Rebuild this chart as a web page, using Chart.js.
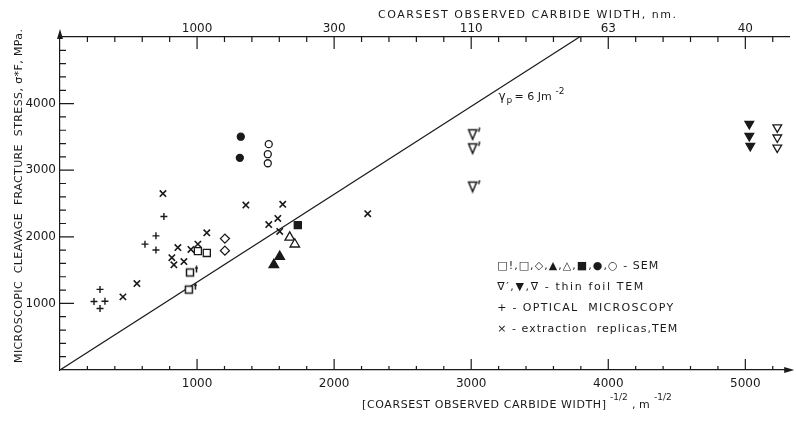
<!DOCTYPE html>
<html>
<head>
<meta charset="utf-8">
<script src="https://cdn.jsdelivr.net/npm/chart.js@4/dist/chart.umd.min.js"></script>
<style>
html, body { margin: 0; padding: 0; background: #fff; }
#wrap { width: 796px; height: 421px; }
</style>
</head>
<body>
<div id="wrap"><canvas id="chart_canvas" width="796" height="421"></canvas></div>
<script>
// Axis ranges and tick labels
var xMax = 5320, yMax = 5000;
var xTickValues = [1000, 2000, 3000, 4000, 5000];
var yTickValues = [1000, 2000, 3000, 4000];
var topTickValues = [1000, 2000, 3000, 4000, 5000];
var topTickLabels = ['1000', '300', '110', '63', '40'];

// SEM
var sqBangX = [948, 940];           var sqBangY = [1464, 1207];
var squareX = [1006, 1071];         var squareY = [1784, 1757];
var diamondX = [1203, 1203];        var diamondY = [1973, 1792];
var triFilledX = [1560, 1603];      var triFilledY = [1580, 1702];
var triOpenX = [1676, 1713];        var triOpenY = [1992, 1888];
var sqFilledX = [1735];             var sqFilledY = [2175];
var circFilledX = [1319, 1312];     var circFilledY = [3503, 3186];
var circOpenX = [1523, 1516, 1516]; var circOpenY = [3391, 3240, 3104];
// thin foil TEM
var triPrimeX = [3010, 3010, 3010]; var triPrimeY = [3539, 3328, 2754];
var downFilledX = [5029, 5029, 5036]; var downFilledY = [3695, 3514, 3363];
var downOpenX = [5233, 5233, 5233]; var downOpenY = [3642, 3491, 3340];
// optical microscopy
var plusX = [248, 292, 328, 292, 620, 700, 700, 758];
var plusY = [1029, 1210, 1032, 923, 1890, 2014, 1802, 2304];
// extraction replicas, TEM
var crossX = [751, 561, 459, 860, 816, 831, 904, 955, 1006, 1071, 1356, 1523, 1589, 1625, 1603, 2245];
var crossY = [2650, 1298, 1098, 1838, 1686, 1580, 1628, 1811, 1890, 2059, 2477, 2183, 2275, 2488, 2080, 2347];
// gamma_p = 6 J m^-2 line
var lineX = [0, 3790];
var lineY = [0, 5000];

var INK = '#1a1a1a';
var FONT = '"DejaVu Sans", sans-serif';

function pts(xs, ys) {
    return xs.map(function (v, i) { return {x: v, y: ys[i]}; });
}

// small canvases for the marks that have a prime / bang next to them
function makeMarker(w, h, draw) {
    var c = document.createElement('canvas');
    c.width = w; c.height = h;
    var g = c.getContext('2d');
    g.strokeStyle = INK; g.fillStyle = INK; g.lineWidth = 1.5;
    draw(g);
    return c;
}
var sqBangMark = makeMarker(22, 14, function (g) {
    g.fillStyle = '#fff';
    g.fillRect(7.5, 3.5, 7, 7);
    g.strokeRect(7.5, 3.5, 7, 7);
    g.beginPath(); g.moveTo(17.5, 0.5); g.lineTo(17.5, 7); g.stroke();
    g.beginPath(); g.moveTo(16, 2.5); g.lineTo(19, 2.5); g.stroke();
});
var triPrimeMark = makeMarker(22, 14, function (g) {
    g.fillStyle = '#fff';
    g.beginPath(); g.moveTo(7, 2.5); g.lineTo(15, 2.5); g.lineTo(11, 12); g.closePath();
    g.fill(); g.stroke();
    g.beginPath(); g.moveTo(18, 0.5); g.lineTo(17, 4.5); g.stroke();
});

function markSet(xs, ys, style, filled, radius, extra) {
    var ds = {
        data: pts(xs, ys),
        pointStyle: style,
        pointRadius: radius,
        pointBorderColor: INK,
        pointBackgroundColor: filled ? INK : '#fff',
        pointBorderWidth: 1.3,
        order: 0
    };
    for (var k in extra) ds[k] = extra[k];
    return ds;
}

function spacedText(ctx, text, x, y, width) {
    ctx.letterSpacing = '0px';
    var w = ctx.measureText(text).width;
    var ls = (width - w) / Math.max(text.length - 1, 1);
    ctx.letterSpacing = ls + 'px';
    ctx.fillText(text, x, y);
    ctx.letterSpacing = '0px';
}

// fixed tick positions, labels come from the arrays above
function fixedTicks(values) {
    return function (scale) {
        scale.ticks = values.map(function (v) { return {value: v}; });
    };
}

var sketchAxes = {
    id: 'sketchAxes',
    afterDraw: function (chart) {
        var ctx = chart.ctx, a = chart.chartArea;
        var xs = chart.scales.x, ys = chart.scales.y;
        ctx.save();
        ctx.strokeStyle = INK; ctx.fillStyle = INK; ctx.lineWidth = 1.2;

        // inward tick marks
        ctx.beginPath();
        for (var v = 200; v < xMax; v += 200) {
            var p = xs.getPixelForValue(v), major = v % 1000 === 0;
            ctx.moveTo(p, a.bottom); ctx.lineTo(p, a.bottom - (major ? 11 : 4));
            ctx.moveTo(p, a.top); ctx.lineTo(p, a.top + (major ? 12 : 5));
        }
        for (var w = 200; w < yMax; w += 200) {
            var q = ys.getPixelForValue(w);
            ctx.moveTo(a.left, q); ctx.lineTo(a.left + (w % 1000 === 0 ? 14 : 6), q);
        }
        ctx.stroke();

        // arrow heads
        ctx.beginPath();
        ctx.moveTo(a.left, a.top - 8); ctx.lineTo(a.left - 3, a.top + 2); ctx.lineTo(a.left + 3, a.top + 2);
        ctx.closePath(); ctx.fill();
        ctx.beginPath();
        ctx.moveTo(a.right + 5, a.bottom); ctx.lineTo(a.right - 5, a.bottom - 3); ctx.lineTo(a.right - 5, a.bottom + 3);
        ctx.closePath(); ctx.fill();

        // axis titles
        ctx.textBaseline = 'alphabetic'; ctx.textAlign = 'left';
        ctx.font = '11px ' + FONT;
        spacedText(ctx, 'COARSEST OBSERVED CARBIDE WIDTH, nm.', 378, 18, 298);
        spacedText(ctx, '[COARSEST OBSERVED CARBIDE WIDTH]', 362, 408, 244);
        ctx.font = '9px ' + FONT;
        ctx.fillText('-1/2', 610, 400);
        ctx.font = '11px ' + FONT;
        ctx.fillText(', m', 632, 408);
        ctx.font = '9px ' + FONT;
        ctx.fillText('-1/2', 654, 400);

        ctx.save();
        ctx.translate(19, 196);
        ctx.rotate(-Math.PI / 2);
        ctx.font = '11px ' + FONT;
        ctx.textBaseline = 'middle';
        spacedText(ctx, 'MICROSCOPIC  CLEAVAGE  FRACTURE  STRESS, \u03c3*F, MPa.', -167, 0, 334);
        ctx.restore();

        // line annotation
        var gx = xs.getPixelForValue(3200), gy = ys.getPixelForValue(4060);
        ctx.font = '12px ' + FONT;
        ctx.fillText('\u03b3', gx, gy);
        ctx.font = '9px ' + FONT;
        ctx.fillText('p', gx + 8, gy + 3);
        ctx.font = '11px ' + FONT;
        ctx.fillText('= 6 Jm', gx + 16, gy);
        ctx.font = '9px ' + FONT;
        ctx.fillText('-2', gx + 57, gy - 6);

        // key
        var lx = xs.getPixelForValue(3190), ly = ys.getPixelForValue(1520);
        ctx.font = '11px ' + FONT;
        var keyLines = [
            ['\u25a1!,\u25a1,\u25c7,\u25b2,\u25b3,\u25a0,\u25cf,\u25cb - SEM', 161],
            ['\u2207\u2032,\u25bc,\u2207 - thin foil TEM', 146],
            ['+ - OPTICAL  MICROSCOPY', 176],
            ['\u00d7 - extraction  replicas,TEM', 180]
        ];
        keyLines.forEach(function (k, i) { spacedText(ctx, k[0], lx, ly + i * 21, k[1]); });
        ctx.restore();
    }
};

var tickFont = {family: FONT, size: 12};

var chart = new Chart(document.getElementById('chart_canvas').getContext('2d'), {
    type: 'scatter',
    data: {
        datasets: [
            {type: 'line', data: pts(lineX, lineY), borderColor: INK, borderWidth: 1.2, pointRadius: 0, fill: false, order: 10},
            markSet(plusX, plusY, 'cross', false, 3.5, {pointBorderWidth: 1.4}),
            markSet(crossX, crossY, 'crossRot', false, 4.5, {pointBorderWidth: 1.6}),
            markSet(sqBangX, sqBangY, sqBangMark, false, 5),
            markSet(squareX, squareY, 'rect', false, 5),
            markSet(diamondX, diamondY, 'rectRot', false, 4.5),
            markSet(triFilledX, triFilledY, 'triangle', true, 5.5),
            markSet(triOpenX, triOpenY, 'triangle', false, 5.5),
            markSet(sqFilledX, sqFilledY, 'rect', true, 5),
            markSet(circFilledX, circFilledY, 'circle', true, 3.5),
            markSet(circOpenX, circOpenY, 'circle', false, 3.5),
            markSet(triPrimeX, triPrimeY, triPrimeMark, false, 5),
            markSet(downFilledX, downFilledY, 'triangle', true, 5, {pointRotation: 180}),
            markSet(downOpenX, downOpenY, 'triangle', false, 5, {pointRotation: 180})
        ]
    },
    options: {
        responsive: false,
        animation: false,
        devicePixelRatio: 1,
        layout: {padding: {left: 0, right: 6, top: 0, bottom: 0}},
        plugins: {legend: {display: false}, tooltip: {enabled: false}},
        scales: {
            x: {
                type: 'linear', position: 'bottom', min: 0, max: xMax,
                grid: {display: false, drawTicks: false},
                border: {display: true, color: INK, width: 1.2},
                afterBuildTicks: fixedTicks(xTickValues),
                ticks: {
                    autoSkip: false, maxRotation: 0, color: INK, font: tickFont, padding: 7,
                    callback: function (v) { return String(v); }
                },
                afterFit: function (s) { s.height = 51; }
            },
            x2: {
                type: 'linear', position: 'top', min: 0, max: xMax,
                grid: {display: false, drawTicks: false},
                border: {display: true, color: INK, width: 1.2},
                afterBuildTicks: fixedTicks(topTickValues),
                ticks: {
                    autoSkip: false, maxRotation: 0, color: INK, font: tickFont, padding: 1,
                    callback: function (v) { return topTickLabels[topTickValues.indexOf(v)]; }
                },
                afterFit: function (s) { s.height = 37; }
            },
            y: {
                type: 'linear', min: 0, max: yMax,
                grid: {display: false, drawTicks: false},
                border: {display: true, color: INK, width: 1.2},
                afterBuildTicks: fixedTicks(yTickValues),
                ticks: {
                    autoSkip: false, color: INK, font: tickFont, padding: 4,
                    callback: function (v) { return String(v); }
                },
                afterFit: function (s) { s.width = 60; }
            }
        }
    },
    plugins: [sketchAxes]
});
</script>
</body>
</html>
